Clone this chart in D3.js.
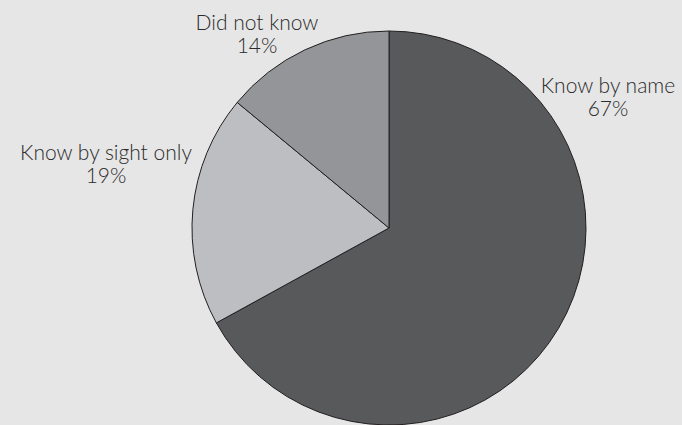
<!DOCTYPE html>
<html><head><meta charset="utf-8">
<script src="https://cdn.jsdelivr.net/npm/d3@7"></script>
<style>
html,body{margin:0;padding:0;background:#e6e6e6;}
svg{display:block;}
</style></head>
<body>
<svg id="chart" width="682" height="425"></svg>
<script>
const categories = ["Know by name", "Know by sight only", "Did not know"];
const values = [67, 19, 14];
const colors = ["#58595b", "#bdbec1", "#939598"];

const W = 682, H = 425;
const cx = 389, cy = 228, R = 197;
const svg = d3.select("#chart");
svg.append("rect").attr("width", W).attr("height", H).attr("fill", "#e6e6e6");

const data = categories.map((c, i) => ({name: c, value: values[i], color: colors[i]}));
const pie = d3.pie().value(d => d.value).sort(null);
const arc = d3.arc().innerRadius(0).outerRadius(R);
const g = svg.append("g").attr("transform", `translate(${cx},${cy})`);
g.selectAll("path").data(pie(data)).enter().append("path")
  .attr("d", arc).attr("fill", d => d.data.color)
  .attr("stroke", "#231f20").attr("stroke-width", 1).attr("stroke-linejoin", "round");

// label anchor positions (center x, baseline y of first line)
const labelPos = [[608, 93], [106, 160], [257, 30]];
data.forEach((d, i) => {
  const t = svg.append("text").attr("text-anchor", "middle")
    .attr("font-family", "Lato, 'Open Sans', sans-serif").attr("font-size", 21)
    .attr("font-weight", 300)
    .attr("fill", "#2b2b2b");
  t.append("tspan").attr("x", labelPos[i][0]).attr("y", labelPos[i][1]).text(d.name);
  t.append("tspan").attr("x", labelPos[i][0]).attr("y", labelPos[i][1] + 23).text(d.value + "%");
});
</script>
</body></html>
